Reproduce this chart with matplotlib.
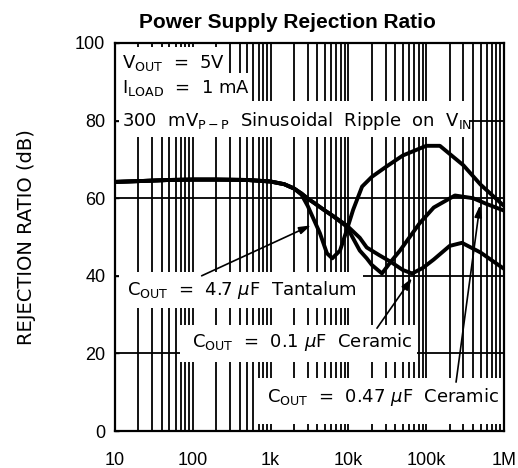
import matplotlib
matplotlib.use("Agg")
import matplotlib.pyplot as plt
from matplotlib.patches import Rectangle
from matplotlib.ticker import LogLocator, FixedLocator, FixedFormatter, NullFormatter

# ---------------- data ----------------
freq_tant = [10, 20, 50, 100, 200, 500, 1000, 1500, 2000, 2500, 3000, 3500, 4300,
             5300, 6200, 7800, 9500, 11500, 15000, 20000, 30000, 50000, 100000,
             150000, 300000, 500000, 1000000]
psrr_tant = [64.2, 64.4, 64.7, 64.8, 64.8, 64.7, 64.3, 63.6, 62.5, 60.9, 58.0, 55.0,
             51.0, 45.8, 44.5, 46.5, 51.7, 57.0, 63.0, 65.5, 68.0, 71.0, 73.5,
             73.5, 68.5, 63.5, 58.0]

freq_047 = [10, 20, 50, 100, 200, 500, 1000, 1500, 2000, 2500, 3000, 3500, 5000,
            6400, 9500, 14000, 17200, 20000, 27000, 35000, 46000, 82000, 125000,
            234000, 400000, 600000, 1000000]
psrr_047 = [64.2, 64.4, 64.7, 64.8, 64.8, 64.7, 64.3, 63.6, 62.5, 61.2, 59.9, 59.0,
            56.8, 55.3, 52.7, 46.5, 44.5, 42.8, 40.6, 43.6, 46.5, 53.5, 57.6,
            60.7, 60.0, 58.5, 56.8]

freq_01 = [10, 20, 50, 100, 200, 500, 1000, 1500, 2000, 2500, 3000, 3500, 5000,
           6400, 9500, 14000, 17200, 25000, 35000, 50000, 66000, 90000, 125000,
           200000, 288000, 500000, 1000000]
psrr_01 = [64.2, 64.4, 64.7, 64.8, 64.8, 64.7, 64.3, 63.6, 62.5, 61.2, 59.9, 59.0,
           56.8, 55.4, 53.0, 49.8, 47.3, 45.3, 43.6, 41.5, 40.6, 42.0, 44.2,
           47.7, 48.5, 46.0, 41.8]

x_ticks = [10, 100, 1000, 10000, 100000, 1000000]
x_tick_labels = ["10", "100", "1k", "10k", "100k", "1M"]
y_ticks = [0, 20, 40, 60, 80, 100]

# ---------------- figure ----------------
W, H = 518, 468
fig = plt.figure(figsize=(W / 100, H / 100), dpi=100)
L, R, T, B = 115, 504, 43, 431
ax = fig.add_axes([L / W, (H - B) / H, (R - L) / W, (B - T) / H])

ax.set_xscale("log")
ax.set_xlim(10, 1e6)
ax.set_ylim(0, 100)

ax.xaxis.set_major_locator(FixedLocator(x_ticks))
ax.xaxis.set_major_formatter(FixedFormatter(x_tick_labels))
ax.xaxis.set_minor_locator(LogLocator(base=10, subs=range(2, 10), numticks=50))
ax.xaxis.set_minor_formatter(NullFormatter())
ax.set_yticks(y_ticks)

ax.set_axisbelow(True)
ax.grid(which="both", axis="x", color="black", lw=1.3)
ax.grid(which="major", axis="y", color="black", lw=1.3)

ax.tick_params(axis="x", which="both", length=0, pad=15)
ax.tick_params(axis="y", direction="in", length=3, width=1, pad=7)
for lab in ax.get_xticklabels() + ax.get_yticklabels():
    lab.set_fontfamily("Liberation Sans")
    lab.set_fontsize(13)
for sp in ax.spines.values():
    sp.set_linewidth(1.6)

# white label backgrounds (axes fraction)
boxes = [
    (0.010, 0.923, 0.280, 0.067),
    (0.010, 0.851, 0.337, 0.072),
    (0.010, 0.758, 0.903, 0.093),
    (0.010, 0.317, 0.628, 0.093),
    (0.167, 0.178, 0.609, 0.095),
    (0.360, 0.018, 0.637, 0.119),
]
for (x0, y0, w, h) in boxes:
    ax.add_patch(Rectangle((x0, y0), w, h, transform=ax.transAxes,
                           facecolor="white", edgecolor="none", zorder=1))

# curves
for f, p in [(freq_tant, psrr_tant), (freq_047, psrr_047), (freq_01, psrr_01)]:
    ax.plot(f, p, color="black", lw=2.8, solid_joinstyle="round",
            solid_capstyle="butt", zorder=3)

afont = dict(family="DejaVu Sans", fontsize=13, va="baseline", zorder=4)
ax.text(0.018, 0.936, r"V$_\mathregular{OUT}$  =  5V", transform=ax.transAxes, **afont)
ax.text(0.018, 0.871, r"I$_\mathregular{LOAD}$  =  1 mA", transform=ax.transAxes, **afont)
ax.text(0.018, 0.786, r"300  mV$_\mathregular{P-P}$  Sinusoidal  Ripple  on  V$_\mathregular{IN}$",
        transform=ax.transAxes, **afont)
ax.text(0.031, 0.350, r"C$_\mathregular{OUT}$  =  4.7 $\mu$F  Tantalum", transform=ax.transAxes, **afont)
ax.text(0.198, 0.216, r"C$_\mathregular{OUT}$  =  0.1 $\mu$F  Ceramic", transform=ax.transAxes, **afont)
ax.text(0.391, 0.075, r"C$_\mathregular{OUT}$  =  0.47 $\mu$F  Ceramic", transform=ax.transAxes, **afont)

arrows = [((3300, 53.0), (130, 40.0)),
          ((65600, 39.4), (23300, 26.5)),
          ((490000, 58.2), (242000, 12.6))]
for head, tail in arrows:
    ax.annotate("", xy=head, xytext=tail,
                arrowprops=dict(arrowstyle="-|>,head_length=0.7,head_width=0.22",
                                color="black", lw=1.2, shrinkA=0, shrinkB=0),
                zorder=5)

fig.text(287.5 / W, 1 - 28 / H, "Power Supply Rejection Ratio", ha="center",
         va="baseline", fontsize=15, fontweight="bold", family="Liberation Sans")
fig.text(27 / W, 1 - 237 / H, "REJECTION RATIO (dB)", rotation=90, ha="center",
         va="center", fontsize=14, family="DejaVu Sans")

fig.savefig("out.png", dpi=100)
